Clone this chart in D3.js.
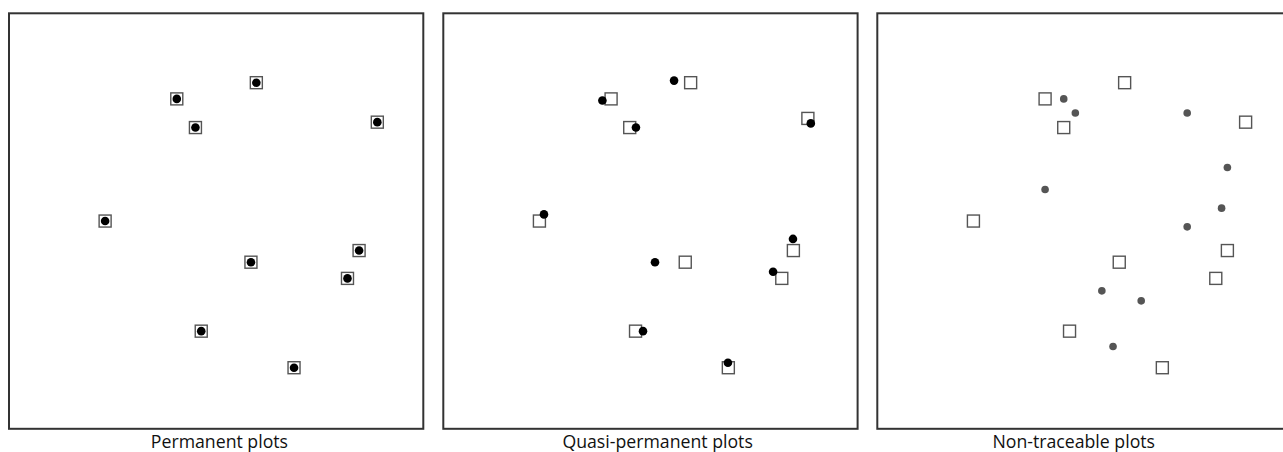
<!doctype html>
<html>
<head>
  <meta charset="utf-8">
  <script src="https://d3js.org/d3.v7.min.js"></script>
  <style>
    body { margin: 0; background: #fff; }
    text { font-family: "Open Sans", sans-serif; }
  </style>
</head>
<body>
  <script>
    // panel titles
    var panelTitles = ["Permanent plots", "Quasi-permanent plots", "Non-traceable plots"];

    // true plot locations (squares), 0-100 units
    var plotX = [59.7, 40.5, 45.0, 88.9, 23.2, 58.4, 84.5, 81.7, 46.4, 68.8];
    var plotY = [16.7, 20.6, 27.5, 26.2, 50.0, 59.9, 57.1, 63.8, 76.5, 85.3];
    // the quasi-permanent panel has one square drawn slightly off
    var quasiPlotX = [59.7, 40.5, 45.0, 88.0, 23.2, 58.4, 84.5, 81.7, 46.4, 68.8];
    var quasiPlotY = [16.7, 20.6, 27.5, 25.3, 50.0, 59.9, 57.1, 63.8, 76.5, 85.3];

    // recorded positions (dots) for each panel
    var permX = plotX.slice();
    var permY = plotY.slice();

    var quasiX = [55.7, 38.4, 46.5, 88.7, 24.3, 51.1, 84.4, 79.6, 48.2, 68.7];
    var quasiY = [16.2, 21.0, 27.5, 26.5, 48.4, 59.9, 54.3, 62.2, 76.5, 84.1];

    var nonX = [45.0, 47.8, 74.8, 84.5, 40.5, 83.1, 74.8, 54.2, 63.7, 56.9];
    var nonY = [20.6, 24.0, 24.0, 37.1, 42.4, 46.9, 51.4, 66.8, 69.2, 80.2];

    var squaresX = [plotX, quasiPlotX, plotX];
    var squaresY = [plotY, quasiPlotY, plotY];
    var dotsX = [permX, quasiX, nonX];
    var dotsY = [permY, quasiY, nonY];

    // canvas and panel layout
    var width = 1283, height = 452;
    var panelLeft = [9, 443.3, 877.3];
    var panelTop = 13.3;
    var pw = 414.3, ph = 415.5;
    var labelDx = [3.3, 7.2, -10.7];

    var x = d3.scaleLinear().domain([0, 100]).range([0, pw]);
    var y = d3.scaleLinear().domain([0, 100]).range([0, ph]);

    var svg = d3.select("body").append("svg")
      .attr("width", width)
      .attr("height", height);

    panelTitles.forEach(function(title, p) {
      var g = svg.append("g")
        .attr("transform", "translate(" + panelLeft[p] + "," + panelTop + ")");

      // frame
      g.append("rect")
        .attr("width", pw)
        .attr("height", ph)
        .attr("fill", "none")
        .attr("stroke", "#333")
        .attr("stroke-width", 2);

      // plot squares
      g.selectAll("rect.plot")
        .data(d3.range(squaresX[p].length))
        .enter().append("rect")
          .attr("class", "plot")
          .attr("x", function(i) { return x(squaresX[p][i]) - 6; })
          .attr("y", function(i) { return y(squaresY[p][i]) - 6; })
          .attr("width", 12)
          .attr("height", 12)
          .attr("fill", "#fff")
          .attr("stroke", "#555")
          .attr("stroke-width", 1.4);

      // recorded dots
      g.selectAll("circle")
        .data(d3.range(dotsX[p].length))
        .enter().append("circle")
          .attr("cx", function(i) { return x(dotsX[p][i]); })
          .attr("cy", function(i) { return y(dotsY[p][i]); })
          .attr("r", p === 2 ? 3.8 : 4.3)
          .attr("fill", p === 2 ? "#555" : "#000");

      // title below panel
      g.append("text")
        .attr("x", pw / 2 + labelDx[p])
        .attr("y", ph + 19)
        .attr("text-anchor", "middle")
        .attr("font-size", 17.7)
        .attr("fill", "#111")
        .text(title);
    });
  </script>
</body>
</html>
